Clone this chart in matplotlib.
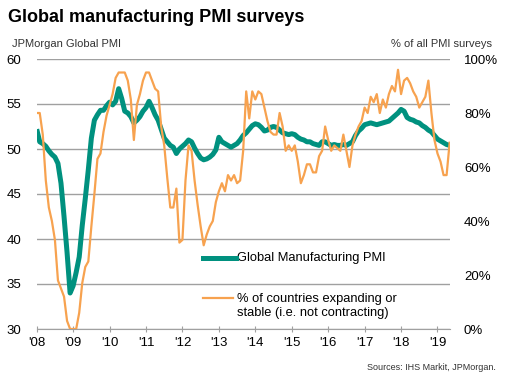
import numpy as np
import matplotlib
matplotlib.use("Agg")
import matplotlib.pyplot as plt
from matplotlib.ticker import FuncFormatter

plt.rcParams['font.family'] = ['Liberation Sans', 'DejaVu Sans']

# JPMorgan Global Manufacturing PMI, monthly, Jan 2008 - May 2019
pmi_2008 = [52.2, 50.8, 50.6, 50.3, 49.8, 49.4, 49.1, 48.4, 46.2, 42.5, 38.5, 34.0]
pmi_2009 = [34.8, 36.3, 38.0, 41.5, 44.5, 47.7, 51.2, 53.2, 53.8, 54.3, 54.3, 54.8]
pmi_2010 = [55.2, 54.9, 55.3, 56.7, 55.6, 54.2, 54.0, 53.6, 52.9, 53.2, 53.6, 54.2]
pmi_2011 = [54.6, 55.3, 54.6, 53.8, 53.2, 52.2, 51.2, 50.8, 50.4, 50.2, 49.5, 50.0]
pmi_2012 = [50.3, 50.6, 51.0, 50.8, 50.1, 49.5, 49.0, 48.8, 48.9, 49.1, 49.4, 49.9]
pmi_2013 = [51.3, 50.8, 50.6, 50.4, 50.2, 50.4, 50.6, 51.0, 51.5, 51.8, 52.2, 52.6]
pmi_2014 = [52.8, 52.7, 52.4, 52.0, 52.1, 52.4, 52.5, 52.4, 52.1, 51.8, 51.7, 51.6]
pmi_2015 = [51.7, 51.6, 51.3, 51.1, 51.0, 50.8, 50.8, 50.6, 50.5, 50.4, 50.8, 50.8]
pmi_2016 = [50.6, 50.4, 50.5, 50.4, 50.4, 50.5, 50.4, 50.6, 50.8, 51.5, 52.0, 52.3]
pmi_2017 = [52.7, 52.8, 52.9, 52.8, 52.7, 52.8, 52.9, 53.0, 53.1, 53.4, 53.7, 54.0]
pmi_2018 = [54.4, 54.2, 53.5, 53.3, 53.2, 53.0, 52.9, 52.6, 52.4, 52.1, 51.9, 51.5]
pmi_2019 = [51.1, 50.9, 50.7, 50.5, 50.4]

# % of countries expanding or stable
share_2008 = [80, 80, 72, 55, 45, 40, 33, 18, 15, 12, 3, 0]
share_2009 = [0, 0, 6, 17, 23, 25, 38, 50, 63, 65, 73, 79]
share_2010 = [83, 87, 93, 95, 95, 95, 92, 85, 70, 83, 87, 92]
share_2011 = [95, 95, 92, 89, 88, 75, 68, 56, 45, 45, 52, 32]
share_2012 = [33, 55, 68, 66, 55, 46, 38, 31, 35, 38, 40, 47]
share_2013 = [51, 54, 51, 57, 55, 57, 54, 55, 66, 88, 78, 88]
share_2014 = [85, 88, 87, 82, 77, 73, 72, 72, 80, 75, 66, 68]
share_2015 = [66, 68, 62, 54, 57, 61, 61, 58, 58, 64, 66, 75]
share_2016 = [70, 66, 68, 67, 66, 72, 66, 60, 68, 72, 75, 77]
share_2017 = [82, 80, 86, 84, 87, 80, 85, 82, 87, 90, 88, 96]
share_2018 = [87, 92, 93, 91, 88, 86, 82, 84, 86, 92, 80, 70]
share_2019 = [65, 62, 57, 57, 69]

years = list(range(2008, 2020))
year_labels = ["'%02d" % (y % 100) for y in years]

pmi = (pmi_2008 + pmi_2009 + pmi_2010 + pmi_2011 + pmi_2012 + pmi_2013 +
       pmi_2014 + pmi_2015 + pmi_2016 + pmi_2017 + pmi_2018 + pmi_2019)
share = (share_2008 + share_2009 + share_2010 + share_2011 + share_2012 + share_2013 +
         share_2014 + share_2015 + share_2016 + share_2017 + share_2018 + share_2019)
dates = 2008 + np.arange(len(pmi)) / 12.0

teal = '#00917f'
orange = '#f7a24f'
grey = '#a0a0a0'

W, H = 509, 384
fig = plt.figure(figsize=(W / 100, H / 100), dpi=100)
left, right, top, bottom = 36.7, 450, 59, 329
ax = fig.add_axes([left / W, 1 - bottom / H, (right - left) / W, (bottom - top) / H])

ax.plot(dates, pmi, color=teal, lw=3.6, solid_capstyle='butt', zorder=3)
ax.set_xlim(2008, 2008 + 136 / 12.0 + 0.01)
ax.set_ylim(30, 60)
ax.set_yticks(range(30, 61, 5))
ax.set_xticks(years)
ax.set_xticklabels(year_labels)
ax.grid(axis='y', color=grey, lw=1)
ax.set_axisbelow(True)
for s in ['top', 'left', 'right']:
    ax.spines[s].set_visible(False)
ax.spines['bottom'].set_color(grey)
ax.tick_params(axis='y', length=0, pad=11, labelsize=9.5)
ax.tick_params(axis='x', direction='inout', length=4, color=grey, pad=4, labelsize=9.5)

ax2 = ax.twinx()
ax2.plot(dates, share, color=orange, lw=1.6, zorder=4)
ax2.set_ylim(0, 100)
ax2.set_yticks(range(0, 101, 20))
ax2.yaxis.set_major_formatter(FuncFormatter(lambda v, p: '%d%%' % v))
for s in ax2.spines.values():
    s.set_visible(False)
ax2.tick_params(axis='y', length=0, pad=10, labelsize=9.5)

# legend, drawn by hand so the orange key sits on the first text line
def ax_x(px):
    return (px - left) / (right - left)

def ax_y(py):
    return (bottom - py) / (bottom - top)

ax.plot([ax_x(203), ax_x(236)], [ax_y(258)] * 2, color=teal, lw=3.6,
        transform=ax.transAxes, clip_on=False, zorder=5)
ax.text(ax_x(237), ax_y(258), 'Global Manufacturing PMI', transform=ax.transAxes,
        va='center', ha='left', fontsize=9.3)
ax.plot([ax_x(203), ax_x(233)], [ax_y(298)] * 2, color=orange, lw=1.6,
        transform=ax.transAxes, clip_on=False, zorder=5)
ax.text(ax_x(237), ax_y(306), '% of countries expanding or\nstable (i.e. not contracting)',
        transform=ax.transAxes, va='center', ha='left', fontsize=9.3, linespacing=1.3)

fig.text(8 / W, 1 - 17 / H, 'Global manufacturing PMI surveys', fontsize=13,
         fontweight='bold', va='center', ha='left')
fig.text(12 / W, 1 - 44 / H, 'JPMorgan Global PMI', fontsize=8, va='center', ha='left',
         color='#333333')
fig.text(492 / W, 1 - 44 / H, '% of all PMI surveys', fontsize=8, va='center', ha='right',
         color='#333333')
fig.text(496 / W, 1 - 368 / H, 'Sources: IHS Markit, JPMorgan.', fontsize=6.5,
         va='center', ha='right', color='#333333')

fig.savefig('out.png', dpi=100)
